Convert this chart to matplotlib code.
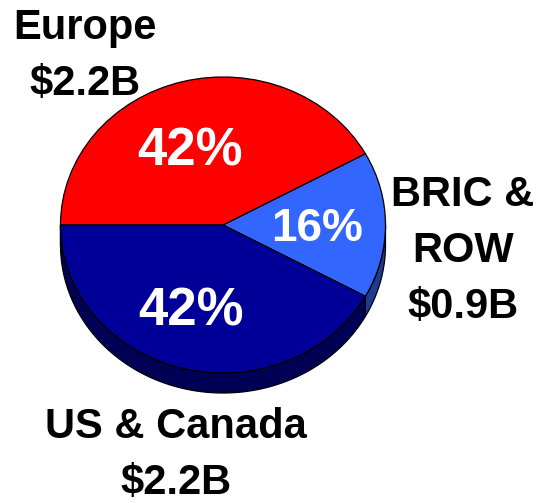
import numpy as np
import matplotlib
matplotlib.use("Agg")
import matplotlib.pyplot as plt
from matplotlib.patches import Polygon

# Data
regions = ["BRIC & ROW", "Europe", "US & Canada"]
shares = [16, 42, 42]
pct_labels = ["16%", "42%", "42%"]
value_labels = ["BRIC &\nROW\n$0.9B", "Europe\n$2.2B", "US & Canada\n$2.2B"]
top_colors = ["#3366FF", "#FF0000", "#000099"]
side_colors = ["#1F3A8F", "#990000", "#000055"]

W, H = 538, 503
fig = plt.figure(figsize=(W / 100, H / 100), dpi=100)

# Pie geometry (pixels)
cx, cy = 223, 225
rx, ry = 162.5, 148
thick = 20 / ry

xl, xr, yb, yt = -1.1, 1.1, -1.3, 1.1
left_px = cx + xl * rx
top_px = cy - yt * ry
w_px = (xr - xl) * rx
h_px = (yt - yb) * ry
ax = fig.add_axes([left_px / W, 1 - (top_px + h_px) / H, w_px / W, h_px / H])

startangle = -28.8
wedges, _ = ax.pie(shares, colors=top_colors, startangle=startangle, counterclock=True,
                   radius=1, center=(0, 0),
                   wedgeprops=dict(edgecolor="black", linewidth=0.9, zorder=3))
ax.set_aspect("auto")
ax.set_xlim(xl, xr)
ax.set_ylim(yb, yt)
ax.axis("off")

# Side walls (visible front half: angles 180..360)
a = startangle
for val, sc in zip(shares, side_colors):
    a0, a1 = a, a + val * 3.6
    a = a1
    for off in (0, 360, -360):
        s0, s1 = max(a0 + off, 180), min(a1 + off, 360)
        if s1 > s0:
            t = np.radians(np.linspace(s0, s1, 120))
            top = np.column_stack([np.cos(t), np.sin(t)])
            bot = np.column_stack([np.cos(t[::-1]), np.sin(t[::-1]) - thick])
            poly = Polygon(np.vstack([top, bot]), closed=True, facecolor=sc,
                           edgecolor="black", linewidth=0.9, zorder=1)
            ax.add_patch(poly)

def ftxt(px, py, s, **kw):
    fig.text(px / W, 1 - py / H, s, ha="center", va="center",
             family="Liberation Sans", fontweight="bold", **kw)

ftxt(317, 229, pct_labels[0], fontsize=33, color="white")
ftxt(190, 152, pct_labels[1], fontsize=38, color="white")
ftxt(191, 312, pct_labels[2], fontsize=38, color="white")

ftxt(463, 251, value_labels[0], fontsize=30, color="black", linespacing=1.53)
ftxt(85, 56, value_labels[1], fontsize=30, color="black", linespacing=1.53)
ftxt(176, 455, value_labels[2], fontsize=30, color="black", linespacing=1.53)

fig.savefig("out.png", dpi=100)
